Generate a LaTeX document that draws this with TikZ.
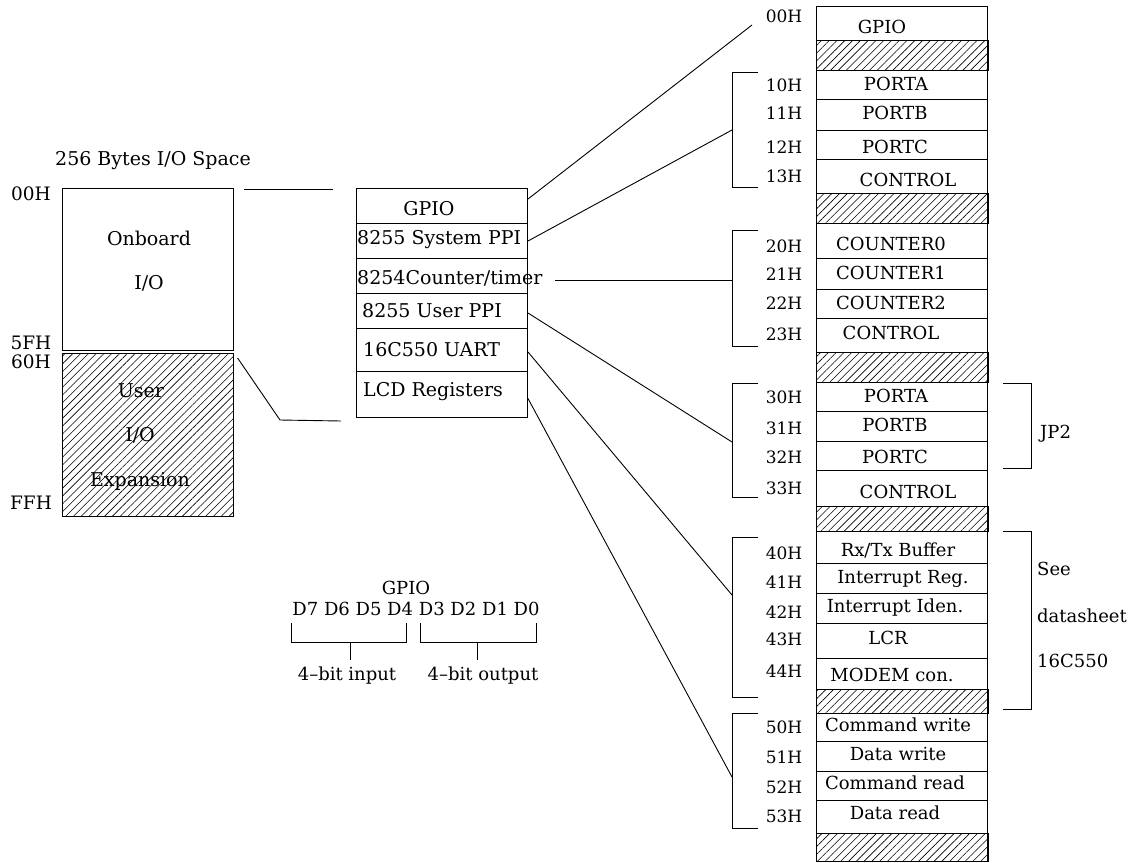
\documentclass[tikz,border=0pt]{standalone}
\usepackage{fontspec}
\setmainfont{DejaVu Serif}
\usetikzlibrary{patterns.meta}
\begin{document}
\begin{tikzpicture}[x=1pt,y=-1pt,
  every node/.style={inner sep=0pt, font=\fontsize{18}{20}\selectfont},
  ln/.style={line width=0.9pt},
  cell/.style={draw, line width=1pt, rectangle, inner sep=0pt, anchor=north west},
  hatch/.style={pattern={Lines[angle=45,distance=5.5pt,line width=0.6pt]}},
  addr/.style={font=\fontsize{17}{20}\selectfont},
  laddr/.style={font=\fontsize{18.5}{20}\selectfont},
  big/.style={font=\fontsize{19}{22}\selectfont}]
\useasboundingbox (0,0) rectangle (1145,862);
\newcommand\rrow[3]{\node[cell,minimum width=171pt,minimum height=#3pt] (#1) at (816,#2) {};}
\newcommand\hrow[3]{\node[cell,hatch,minimum width=171pt,minimum height=#3pt] (#1) at (816,#2) {};
  \draw[line width=2pt] (#1.north east) -- (#1.south east);}

% ---------- left block ----------
\node[big] (title) at (153,161) {256 Bytes I/O Space};
\node[cell,minimum width=171pt,minimum height=162pt] (on) at (62,188) {};
\node[cell,hatch,minimum width=171pt,minimum height=163pt] (ue) at (62,353) {};
\node[big] (ton1) at (149,238) {Onboard};
\node[big] (ton2) at (149,283) {I/O};
\node[big] (tue1) at (141,391) {User};
\node[big] (tue2) at (140,435) {I/O};
\node[big] (tue3) at (140,481) {Expansion};
\node[laddr] (l00) at (31,194) {00H};
\node[laddr] (l5f) at (31,343) {5FH};
\node[laddr] (l60) at (31,362) {60H};
\node[laddr] (lff) at (31,503) {FFH};

% ---------- middle block ----------
\node[cell,minimum width=171pt,minimum height=35pt] (m1) at (356,188) {};
\node[cell,minimum width=171pt,minimum height=35pt] (m2) at (356,223) {};
\node[cell,minimum width=171pt,minimum height=35pt] (m3) at (356,258) {};
\node[cell,minimum width=171pt,minimum height=35pt] (m4) at (356,293) {};
\node[cell,minimum width=171pt,minimum height=43pt] (m5) at (356,328) {};
\node[cell,minimum width=171pt,minimum height=46pt] (m6) at (356,371) {};
\node[big] (tm1) at (429,209) {GPIO};
\node[big,anchor=west] (tm2) at (357,240) {8255 System PPI};
\node[big,anchor=west] (tm3) at (357,278) {8254Counter/timer};
\node[big,anchor=west] (tm4) at (362,311) {8255 User PPI};
\node[big,anchor=west] (tm5) at (363,350) {16C550 UART};
\node[big,anchor=west] (tm6) at (363,392) {LCD Registers};

% left-to-middle connectors
\draw[ln] ([xshift=10pt,yshift=-1pt]on.north east) -- ([xshift=-23pt,yshift=-1pt]m1.north west);
\draw[ln] ([xshift=4pt,yshift=-5pt]ue.north east) -- (280,420) -- ([xshift=-15pt,yshift=-3pt]m6.south west);

% ---------- right column ----------
\rrow{rg}{6}{34}
\hrow{rh1}{40}{30}
\rrow{rpa}{70}{29}
\rrow{rpb}{99}{31}
\rrow{rpc}{130}{29}
\rrow{rct}{159}{34}
\hrow{rh2}{193}{30}
\rrow{rc0}{223}{35}
\rrow{rc1}{258}{31}
\rrow{rc2}{289}{29}
\rrow{rct2}{318}{34}
\hrow{rh3}{352}{30}
\rrow{rpa2}{382}{29}
\rrow{rpb2}{411}{30}
\rrow{rpc2}{441}{29}
\rrow{rct3}{470}{36}
\hrow{rh4}{506}{25}
\rrow{rrx}{531}{32}
\rrow{rir}{563}{30}
\rrow{rii}{593}{30}
\rrow{rlcr}{623}{35}
\rrow{rmod}{658}{31}
\hrow{rh5}{689}{24}
\rrow{rcw}{713}{28}
\rrow{rdw}{741}{30}
\rrow{rcr}{771}{29}
\rrow{rdr}{800}{33}
\hrow{rh6}{833}{28}

\node (trg) at (882,27) {GPIO};
\node (trpa) at (896,84) {PORTA};
\node (trpb) at (895,113) {PORTB};
\node (trpc) at (895,147) {PORTC};
\node (trct) at (908,180) {CONTROL};
\node (trc0) at (891,244) {COUNTER0};
\node (trc1) at (891,273) {COUNTER1};
\node (trc2) at (891,303) {COUNTER2};
\node (trct2) at (891,333) {CONTROL};
\node (trpa2) at (896,396) {PORTA};
\node (trpb2) at (895,425) {PORTB};
\node (trpc2) at (895,457) {PORTC};
\node (trct3) at (908,492) {CONTROL};
\node (trrx) at (898,550) {Rx/Tx Buffer};
\node (trir) at (903,579) {Interrupt Reg.};
\node (trii) at (895,608) {Interrupt Iden.};
\node (trlcr) at (888,638) {LCR};
\node (trmod) at (892,675) {MODEM con.};
\node (trcw) at (898,725) {Command write};
\node (trdw) at (898,754) {Data write};
\node (trcr) at (895,783) {Command read};
\node (trdr) at (895,813) {Data read};

% addresses
\node[addr] (a00) at (784,16) {00H};
\node[addr] (a10) at (784,85) {10H};
\node[addr] (a11) at (784,113) {11H};
\node[addr] (a12) at (784,147) {12H};
\node[addr] (a13) at (784,176) {13H};
\node[addr] (a20) at (784,246) {20H};
\node[addr] (a21) at (784,274) {21H};
\node[addr] (a22) at (784,303) {22H};
\node[addr] (a23) at (784,334) {23H};
\node[addr] (a30) at (784,397) {30H};
\node[addr] (a31) at (784,428) {31H};
\node[addr] (a32) at (784,457) {32H};
\node[addr] (a33) at (784,488) {33H};
\node[addr] (a40) at (784,553) {40H};
\node[addr] (a41) at (784,582) {41H};
\node[addr] (a42) at (784,612) {42H};
\node[addr] (a43) at (784,639) {43H};
\node[addr] (a44) at (784,671) {44H};
\node[addr] (a50) at (784,727) {50H};
\node[addr] (a51) at (784,757) {51H};
\node[addr] (a52) at (784,787) {52H};
\node[addr] (a53) at (784,816) {53H};

% left brackets of right column
\draw[ln] (758,72) -- (732,72) -- (732,187) -- (758,187);
\draw[ln] (758,230) -- (732,230) -- (732,346) -- (758,346);
\draw[ln] (758,383) -- (732,383) -- (732,497) -- (758,497);
\draw[ln] (758,537) -- (732,537) -- (732,697) -- (758,697);
\draw[ln] (758,713) -- (732,713) -- (732,828) -- (758,828);
\coordinate (b1) at (732,130);
\coordinate (b2) at (732,280);
\coordinate (b3) at (732,442);
\coordinate (b4) at (732,595);
\coordinate (b5) at (732,777);
\coordinate (g00) at (752,25);
\coordinate (c3) at (555,280);

% middle-to-right connectors
\draw[ln] ([yshift=7pt]m1.east) -- (g00);
\draw[ln] (m2.east) -- (b1);
\draw[ln] (c3) -- (b2);
\draw[ln] ([yshift=-2pt]m4.east) -- (b3);
\draw[ln] ([yshift=-2pt]m5.east) -- (b4);
\draw[ln] ([yshift=-4pt]m6.east) -- (b5);

% right brackets
\draw[ln] (1003,383) -- (1031,383) -- (1031,468) -- (1003,468);
\draw[ln] (1003,531) -- (1031,531) -- (1031,709) -- (1003,709);
\node[anchor=west] (jp2) at (1040,434) {JP2};
\node[anchor=west] (see1) at (1037,569) {See};
\node[anchor=west] (see2) at (1037,616) {datasheet};
\node[anchor=west] (see3) at (1037,661) {16C550};

% ---------- GPIO bits ----------
\node (gtitle) at (406,588) {GPIO};
\node (gbits) at (416,609) {D7 D6 D5 D4 D3 D2 D1 D0};
\draw[ln] (291,623) -- (291,642) -- (406,642) -- (406,623);
\draw[ln] (420,623) -- (420,642) -- (536,642) -- (536,623);
\draw[ln] (350,642) -- (350,660);
\draw[ln] (477,642) -- (477,660);
\node (gin) at (347,676) {4--bit input};
\node (gout) at (483,676) {4--bit output};
\end{tikzpicture}
\end{document}
